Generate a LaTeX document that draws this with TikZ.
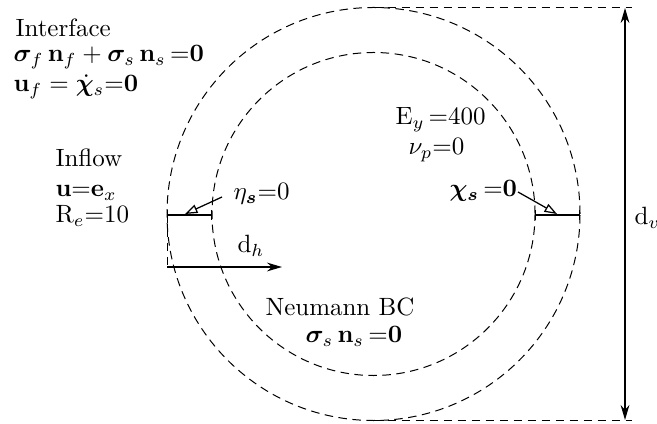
\documentclass[tikz,border=0pt]{standalone}
\usepackage{amsmath,bm}
\usetikzlibrary{arrows.meta}
\begin{document}
\begin{tikzpicture}[x=0.4pt,y=-0.4pt,
  dsh/.style={dash pattern=on 3.4pt off 2.2pt, line width=0.4pt},
  thinln/.style={line width=0.5pt},
  lbl/.style={anchor=base west, inner sep=0pt, font=\fontsize{10}{12}\selectfont},
  openarr/.style={thinln,-{Triangle[open,length=5pt,width=3.5pt]}},
  dimarr/.style={line width=0.6pt}]
\useasboundingbox (0,0) rectangle (657,424);
\coordinate (c) at (373.5,214);
\draw[dsh] (c) circle[radius=82.6pt];
\draw[dsh] (c) circle[radius=64.6pt];
% radial segments
\coordinate (ol) at (167,215);
\coordinate (il) at (212,215);
\coordinate (ir) at (535,215);
\coordinate (or) at (580,215);
\draw[thinln,{Bar[width=4pt]}-{Bar[width=4pt]}] (ol) -- (il);
\draw[thinln,{Bar[width=4pt]}-{Bar[width=4pt]}] (ir) -- (or);
% vertical dimension
\coordinate (tt) at (373.5,8);
\coordinate (tr) at (632,8);
\coordinate (bt) at (373.5,420);
\coordinate (br) at (632,420);
\draw[dsh] (tt) -- (tr);
\draw[dsh] (bt) -- (br);
\coordinate (vt) at (625,8);
\coordinate (vb) at (625,420);
\draw[dimarr,{Stealth[length=6pt,width=3.5pt]}-{Stealth[length=6pt,width=3.5pt]}] (vt) -- (vb);
% horizontal d_h
\coordinate (hl) at (167,267);
\coordinate (hr) at (282,267);
\draw[dsh] (ol) -- (hl);
\draw[dimarr,-{Stealth[length=6pt,width=3.5pt]}] (hl) -- (hr);
% labels
\node[lbl] (if1) at (15,37) {Interface};
\node[lbl] (if2) at (13,62) {$\boldsymbol{\sigma}_f\,\mathbf{n}_f+\boldsymbol{\sigma}_s\,\mathbf{n}_s\,{=}\mathbf{0}$};
\node[lbl] (if3) at (13,92) {$\mathbf{u}_f = \dot{\boldsymbol{\chi}}_s{=}\mathbf{0}$};
\node[lbl] (in1) at (55,167) {Inflow};
\node[lbl] (in2) at (55,197) {$\mathbf{u}{=}\mathbf{e}_x$};
\node[lbl] (in3) at (55,223) {$\mathrm{R}_e{=}10$};
\node[lbl] (eta) at (233,200) {$\eta_{\boldsymbol{s}}{=}0$};
\node[lbl] (dh) at (237,253) {$\mathrm{d}_h$};
\node[lbl] (ey) at (395,125) {$\mathrm{E}_y\,{=}400$};
\node[lbl] (nu) at (408,155) {$\nu_p{=}0$};
\node[lbl] (chi) at (449,197) {$\boldsymbol{\chi}_{\boldsymbol{s}}\,{=}\mathbf{0}$};
\node[lbl] (nm1) at (265,316) {Neumann BC};
\node[lbl] (nm2) at (305,343) {$\boldsymbol{\sigma}_s\,\mathbf{n}_s\,{=}\mathbf{0}$};
\node[lbl] (dv) at (634,225) {$\mathrm{d}_v$};
% pointer arrows
\coordinate (ea) at (222,197);
\coordinate (eb) at (185,214);
\draw[openarr] (ea) -- (eb);
\coordinate (ca) at (518,192);
\coordinate (cb) at (557,214);
\draw[openarr] (ca) -- (cb);
\end{tikzpicture}
\end{document}
